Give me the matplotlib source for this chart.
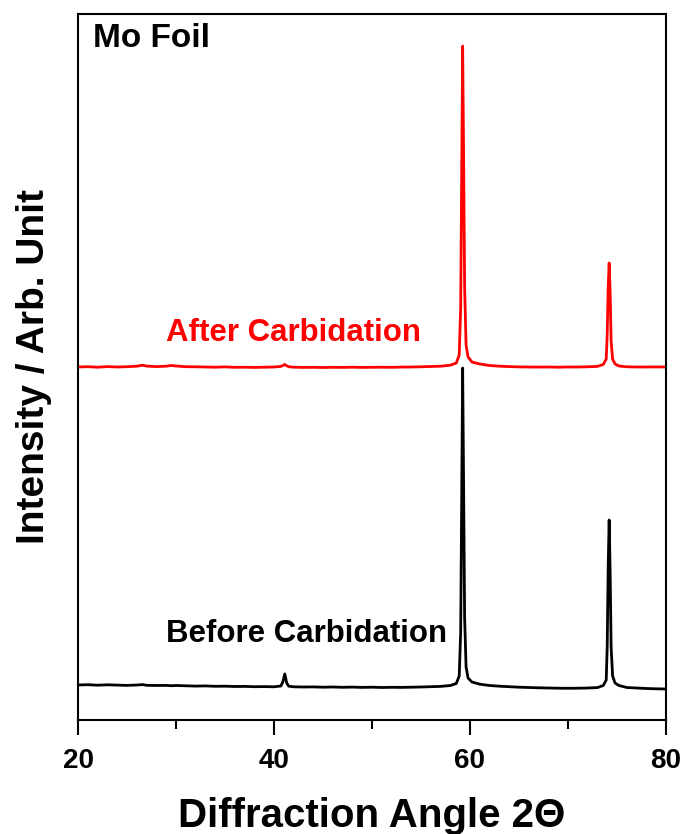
import matplotlib
matplotlib.use('Agg')
import matplotlib.pyplot as plt
from matplotlib.ticker import MultipleLocator

# 2theta positions (deg), denser around the peaks
two_theta = [
    20, 21, 22, 23, 24, 25, 26, 26.6, 27, 28,
    29, 29.5, 30, 31, 32, 33, 34, 35, 36, 37,
    38, 39, 40, 40.7, 40.9, 41.1, 41.3, 41.5, 42, 43,
    44, 45, 46, 47, 48, 49, 50, 51, 52, 53,
    54, 55, 56, 57, 58, 58.6, 58.9, 59.05, 59.15, 59.25,
    59.35, 59.45, 59.6, 59.8, 60.2, 61, 62, 63, 64, 65,
    66, 67, 68, 69, 70, 71, 72, 73, 73.6, 73.9,
    74.0, 74.1, 74.2, 74.3, 74.4, 74.55, 74.8, 75.2, 76, 77,
    78, 79, 80,
]

# intensity (a.u.) before carbidation
before = [
    2.0, 2.3, 1.8, 2.2, 1.9, 1.6, 2.0, 2.4, 1.7, 1.5,
    1.6, 1.3, 1.5, 1.2, 0.9, 1.1, 0.7, 0.8, 0.5, 0.6,
    0.3, 0.4, 0.2, 1.0, 5.0, 13.0, 4.0, 0.8, 0.2, 0.0,
    0.1, -0.2, 0.0, -0.3, -0.1, -0.4, -0.2, -0.5, -0.3, -0.4,
    -0.2, 0.0, 0.3, 0.6, 1.5, 3.5, 11.0, 55.0, 185.0, 319.0,
    200.0, 70.0, 20.0, 9.0, 5.0, 2.8, 1.5, 0.8, 0.3, -0.2,
    -0.5, -0.8, -1.0, -1.2, -1.3, -1.2, -1.0, -0.6, 1.5, 7.0,
    40.0, 120.0, 167.0, 115.0, 40.0, 11.0, 4.0, 1.5, -0.5, -1.0,
    -1.5, -1.8, -2.0,
]

# intensity (a.u.) after carbidation
after = [
    0.0, 0.3, -0.2, 0.4, 0.0, 0.3, 0.8, 1.8, 0.9, 0.4,
    0.8, 1.5, 1.0, 0.3, 0.2, 0.0, -0.2, 0.1, -0.3, -0.2,
    -0.4, -0.2, 0.0, 0.6, 1.5, 2.5, 1.2, 0.3, -0.2, -0.4,
    -0.3, -0.5, -0.3, -0.4, -0.2, -0.4, -0.3, -0.2, -0.3, -0.1,
    0.0, 0.2, 0.5, 0.8, 1.8, 4.0, 12.0, 60.0, 190.0, 321.0,
    210.0, 80.0, 22.0, 10.0, 5.0, 3.0, 1.5, 0.8, 0.4, 0.1,
    0.0, -0.1, 0.0, -0.2, 0.0, 0.0, 0.2, 0.6, 2.5, 8.0,
    32.0, 80.0, 104.0, 75.0, 26.0, 8.0, 3.0, 1.0, 0.2, 0.0,
    0.0, 0.1, 0.0,
]
after_offset = 320

plt.rcParams['font.family'] = ['Liberation Sans', 'DejaVu Sans']
plt.rcParams['font.weight'] = 'bold'

fig = plt.figure(figsize=(6.86, 8.34), dpi=100)
ax = fig.add_axes([78 / 686, 1 - 720 / 834, 588 / 686, 706 / 834])

ax.plot(two_theta, before, color='black', lw=2)
ax.plot(two_theta, [v + after_offset for v in after], color='red', lw=2)

ax.set_xlim(20, 80)
ax.set_ylim(-33, 673)

ax.xaxis.set_major_locator(MultipleLocator(20))
ax.xaxis.set_minor_locator(MultipleLocator(10))
ax.tick_params(axis='x', which='major', direction='out', length=10.5, width=1.5,
               labelsize=20, pad=10)
ax.tick_params(axis='x', which='minor', direction='out', length=6.5, width=1.5)
ax.tick_params(axis='y', which='both', left=False, labelleft=False)
for lab in ax.get_xticklabels():
    lab.set_fontweight('bold')
for s in ax.spines.values():
    s.set_linewidth(1.5)

ax.set_xlabel('Diffraction Angle 2Θ', fontsize=29, fontweight='bold', labelpad=16)
ax.set_ylabel('Intensity / Arb. Unit', fontsize=28, fontweight='bold', labelpad=19)

ax.text(0.0255, 0.987, 'Mo Foil', transform=ax.transAxes, ha='left', va='top',
        fontsize=24, fontweight='bold')
ax.text(42.0, 354, 'After Carbidation', color='red', ha='center', va='center',
        fontsize=22.5, fontweight='bold')
ax.text(43.3, 53, 'Before Carbidation', color='black', ha='center', va='center',
        fontsize=22.5, fontweight='bold')

fig.savefig('out.png', dpi=100)
